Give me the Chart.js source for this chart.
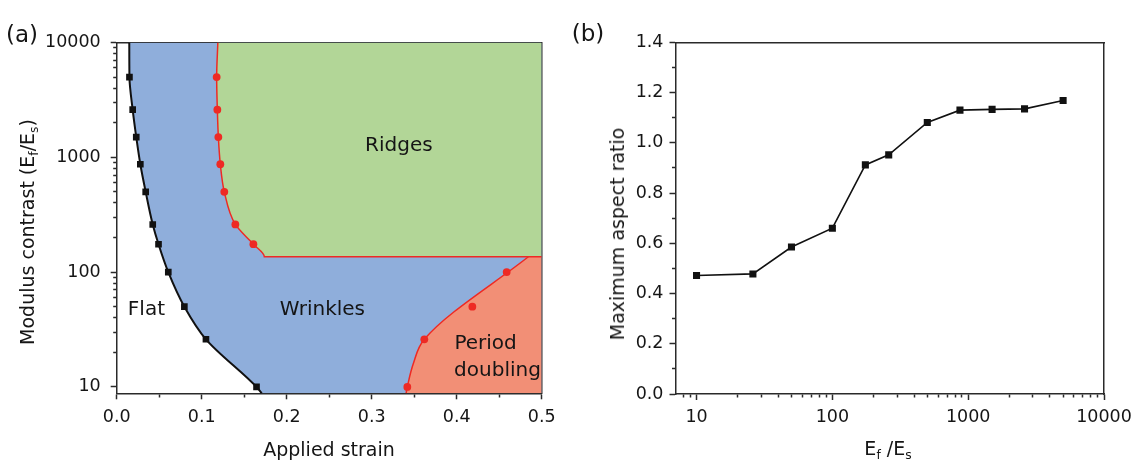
<!DOCTYPE html>
<html lang="en">
<head>
<meta charset="UTF-8">
<title>Phase diagram and maximum aspect ratio</title>
<script src="https://cdn.jsdelivr.net/npm/chart.js@4.4.1/dist/chart.umd.min.js"></script>
<style>
  body { margin: 0; background: #fff; font-family: "DejaVu Sans", sans-serif; color: #151515; }
  #wrap { position: relative; width: 1133px; height: 465px; overflow: hidden; }
  canvas { position: absolute; top: 0; }
  .lbl { position: absolute; white-space: nowrap; transform: translate(-50%, -50%); font-size: 19px; }
  .rot { transform: translate(-50%, -50%) rotate(-90deg); }
  .panel { font-size: 23px; }
  sub { font-size: 65%; vertical-align: -0.3em; line-height: 0; }
</style>
</head>
<body>
<div id="wrap">
  <canvas id="phaseChart" width="560" height="465" style="left:0"></canvas>
  <canvas id="ratioChart" width="573" height="465" style="left:560px"></canvas>
  <div class="lbl panel" style="left:22px;top:34px">(a)</div>
  <div class="lbl panel" style="left:588px;top:33px">(b)</div>
  <div class="lbl" style="left:329px;top:449px">Applied strain</div>
  <div class="lbl rot" style="left:27px;top:232px">Modulus contrast (E<sub>f</sub>/E<sub>s</sub>)</div>
  <div class="lbl" style="left:888px;top:448px">E<sub>f</sub> /E<sub>s</sub></div>
  <div class="lbl rot" style="left:617px;top:234px">Maximum aspect ratio</div>
</div>

<script>
    // E_f/E_s values used in both panels
    const modulus = [10, 26, 50, 100, 175, 260, 500, 870, 1500, 2600, 5000];
    const aspectRatio = [0.472, 0.478, 0.585, 0.660, 0.912, 0.952, 1.081, 1.130, 1.133, 1.135, 1.168];

    // (a) flat / wrinkles transition (black squares)
    const flatStrain = [0.1645, 0.105, 0.0796, 0.0607, 0.0492, 0.0424, 0.0341, 0.0278, 0.0230, 0.0188, 0.0150];
    // (a) wrinkles / ridges transition (red circles)
    const ridgeModulus = [175, 260, 500, 870, 1500, 2600, 5000];
    const ridgeStrain = [0.1608, 0.1396, 0.1266, 0.1219, 0.1196, 0.1184, 0.1176];
    // (a) wrinkles / period doubling transition (red circles)
    const pdModulus = [10, 26, 50, 100];
    const pdStrain = [0.3419, 0.3619, 0.4184, 0.4588];

    // (a) phase boundary curves, from the top of the plot downwards
    const flatLineModulus = [10000, 5000, 2600, 1500, 870, 500, 260, 175, 100, 50, 26, 10, 8.8];
    const flatLineStrain = [0.0148, 0.0150, 0.0188, 0.0230, 0.0278, 0.0341, 0.0424, 0.0492, 0.0607, 0.0796, 0.105, 0.1645, 0.1706];
    const ridgeLineModulus = [10000, 5000, 2600, 1500, 870, 500, 260, 175, 136, 136];
    const ridgeLineStrain = [0.119, 0.1176, 0.1184, 0.1196, 0.1219, 0.1266, 0.1396, 0.1608, 0.1737, 0.5];
    const pdLineModulus = [136, 26, 16, 10, 8.8];
    const pdLineStrain = [0.4843, 0.3619, 0.349, 0.3419, 0.3405];

    // (a) region names
    const regionNames = ['Flat', 'Wrinkles', 'Ridges', 'Period', 'doubling'];
    const regionStrain = [0.035, 0.242, 0.332, 0.434, 0.448];
    const regionModulus = [46.7, 46.8, 1250, 23.6, 13.7];

    // tick values
    const strainTicks = [0, 0.05, 0.1, 0.15, 0.2, 0.25, 0.3, 0.35, 0.4, 0.45, 0.5];
    const decades = [10, 100, 1000];
    const logMinor = [1, 2, 3, 4, 5, 6, 7, 8, 9];
    const phaseYTicks = decades.flatMap(d => logMinor.map(k => k * d)).concat([10000]);
    const ratioXTicks = [8, 9].concat(phaseYTicks);

    const axisColor = '#2a2a2a';
    const textColor = '#151515';
    const tickFont = { size: 17.5 };
    Chart.defaults.font.family = '"DejaVu Sans", sans-serif';
    Chart.defaults.color = textColor;

    const toPoints = (xs, ys) => xs.map((x, i) => ({ x: x, y: ys[i] }));
    const isDecade = v => Math.abs(Math.log10(v) - Math.round(Math.log10(v))) < 1e-9;
    const isTenth = v => Math.abs(v * 10 - Math.round(v * 10)) < 1e-6;
    const isFifth = v => Math.abs(v * 5 - Math.round(v * 5)) < 1e-6;

    // minor ticks are drawn shorter with a dash pattern
    const bottomDash = isMajor => c => (!c.tick || isMajor(c.tick.value)) ? [] : [3, 20];
    const leftDash = isMajor => c => (!c.tick || isMajor(c.tick.value)) ? [] : [0, 2.5, 20];

    // fixed axis band size; end labels may hang into the margin
    const fixHeight = h => s => { s.height = h; s.paddingLeft = 0; s.paddingRight = 0; };

    const frameAxis = (position, size) => ({
        position: position,
        type: 'linear',
        afterFit: s => { if (position === 'top') s.height = size; else s.width = size; },
        border: { color: axisColor, width: 1.5 },
        grid: { drawOnChartArea: false, drawTicks: false },
        ticks: { display: false }
    });

    const regionLabels = {
        id: 'regionLabels',
        afterDatasetsDraw(chart) {
            const { ctx, scales: { x, y } } = chart;
            ctx.save();
            ctx.font = '20px "DejaVu Sans", sans-serif';
            ctx.fillStyle = '#151515';
            ctx.textAlign = 'center';
            ctx.textBaseline = 'middle';
            regionNames.forEach((name, i) => {
                ctx.fillText(name, x.getPixelForValue(regionStrain[i]), y.getPixelForValue(regionModulus[i]));
            });
            ctx.restore();
        }
    };

    // Panel (a): phase diagram
    new Chart(document.getElementById('phaseChart'), {
        type: 'line',
        data: {
            datasets: [
                {
                    label: 'Wrinkle onset markers',
                    data: toPoints(flatStrain, modulus),
                    indexAxis: 'y',
                    showLine: false,
                    pointStyle: 'rect',
                    pointRadius: 4.7,
                    pointBorderWidth: 0,
                    pointBackgroundColor: '#111',
                    order: 1
                },
                {
                    label: 'Ridge markers',
                    data: toPoints(ridgeStrain, ridgeModulus).concat(toPoints(pdStrain, pdModulus)),
                    indexAxis: 'y',
                    showLine: false,
                    pointStyle: 'circle',
                    pointRadius: 3.9,
                    pointBorderWidth: 0,
                    pointBackgroundColor: '#ee2a24',
                    order: 1
                },
                {
                    label: 'Ridges',
                    data: toPoints(ridgeLineStrain, ridgeLineModulus),
                    indexAxis: 'y',
                    borderColor: '#ee2a24',
                    borderWidth: 1.5,
                    backgroundColor: '#b2d697',
                    fill: { value: 0.5 },
                    cubicInterpolationMode: 'monotone',
                    pointRadius: 0,
                    order: 3
                },
                {
                    label: 'Period doubling',
                    data: toPoints(pdLineStrain, pdLineModulus),
                    indexAxis: 'y',
                    borderColor: '#ee2a24',
                    borderWidth: 1.5,
                    backgroundColor: '#f28f76',
                    fill: { value: 0.5 },
                    cubicInterpolationMode: 'monotone',
                    pointRadius: 0,
                    order: 3
                },
                {
                    label: 'Wrinkles',
                    data: toPoints(flatLineStrain, flatLineModulus),
                    indexAxis: 'y',
                    borderColor: '#111',
                    borderWidth: 2,
                    backgroundColor: '#8faedb',
                    fill: { value: 0.5 },
                    cubicInterpolationMode: 'monotone',
                    pointRadius: 0,
                    order: 5
                }
            ]
        },
        options: {
            indexAxis: 'y',
            responsive: false,
            animation: false,
            layout: { padding: { left: 0, top: 42.5, right: 18.3, bottom: 0 } },
            plugins: { legend: { display: false }, tooltip: { enabled: false } },
            scales: {
                x: {
                    type: 'linear',
                    min: 0,
                    max: 0.5,
                    afterBuildTicks: s => { s.ticks = strainTicks.map(v => ({ value: v })); },
                    afterFit: fixHeight(71.7),
                    border: { color: axisColor, width: 1.5 },
                    grid: {
                        drawOnChartArea: false, tickLength: 6, tickWidth: 1.5, tickColor: axisColor,
                        tickBorderDash: bottomDash(isTenth)
                    },
                    ticks: {
                        autoSkip: false, maxRotation: 0, padding: 8, font: tickFont, color: textColor,
                        callback: v => isTenth(v) ? v.toFixed(1) : ''
                    }
                },
                y: {
                    type: 'logarithmic',
                    min: 8.8,
                    max: 10000,
                    afterBuildTicks: s => { s.ticks = phaseYTicks.map(v => ({ value: v })); },
                    afterFit: s => { s.width = 116.7; },
                    border: { color: axisColor, width: 1.5 },
                    grid: {
                        drawOnChartArea: false, tickLength: 6, tickWidth: 1.5, tickColor: axisColor,
                        tickBorderDash: leftDash(isDecade)
                    },
                    ticks: {
                        autoSkip: false, padding: 10, font: tickFont, color: textColor,
                        callback: v => isDecade(v) ? String(v) : ''
                    }
                },
                x2: frameAxis('top', 0),
                y2: frameAxis('right', 0)
            }
        },
        plugins: [regionLabels]
    });

    // Panel (b): maximum aspect ratio
    new Chart(document.getElementById('ratioChart'), {
        type: 'line',
        data: {
            datasets: [{
                label: 'Maximum aspect ratio',
                data: toPoints(modulus, aspectRatio),
                borderColor: '#111',
                borderWidth: 1.6,
                tension: 0,
                pointStyle: 'rect',
                pointRadius: 5,
                pointBorderWidth: 0,
                pointBackgroundColor: '#111'
            }]
        },
        options: {
            responsive: false,
            animation: false,
            layout: { padding: { left: 0, top: 42.3, right: 29, bottom: 0 } },
            plugins: { legend: { display: false }, tooltip: { enabled: false } },
            scales: {
                x: {
                    type: 'logarithmic',
                    min: 7,
                    max: 10000,
                    afterBuildTicks: s => { s.ticks = ratioXTicks.map(v => ({ value: v })); },
                    afterFit: fixHeight(71),
                    border: { color: axisColor, width: 1.5 },
                    grid: {
                        drawOnChartArea: false, tickLength: 6, tickWidth: 1.5, tickColor: axisColor,
                        tickBorderDash: bottomDash(isDecade)
                    },
                    ticks: {
                        autoSkip: false, maxRotation: 0, padding: 7, font: tickFont, color: textColor,
                        callback: v => isDecade(v) ? String(v) : ''
                    }
                },
                y: {
                    type: 'linear',
                    min: 0,
                    max: 1.4,
                    ticks: {
                        stepSize: 0.1, autoSkip: false, padding: 6, font: tickFont, color: textColor,
                        callback: v => isFifth(v) ? v.toFixed(1) : ''
                    },
                    afterFit: s => { s.width = 115.5; },
                    border: { color: axisColor, width: 1.5 },
                    grid: {
                        drawOnChartArea: false, tickLength: 6, tickWidth: 1.5, tickColor: axisColor,
                        tickBorderDash: leftDash(isFifth)
                    }
                },
                x2: frameAxis('top', 0),
                y2: frameAxis('right', 0)
            }
        }
    });
</script>
</body>
</html>
